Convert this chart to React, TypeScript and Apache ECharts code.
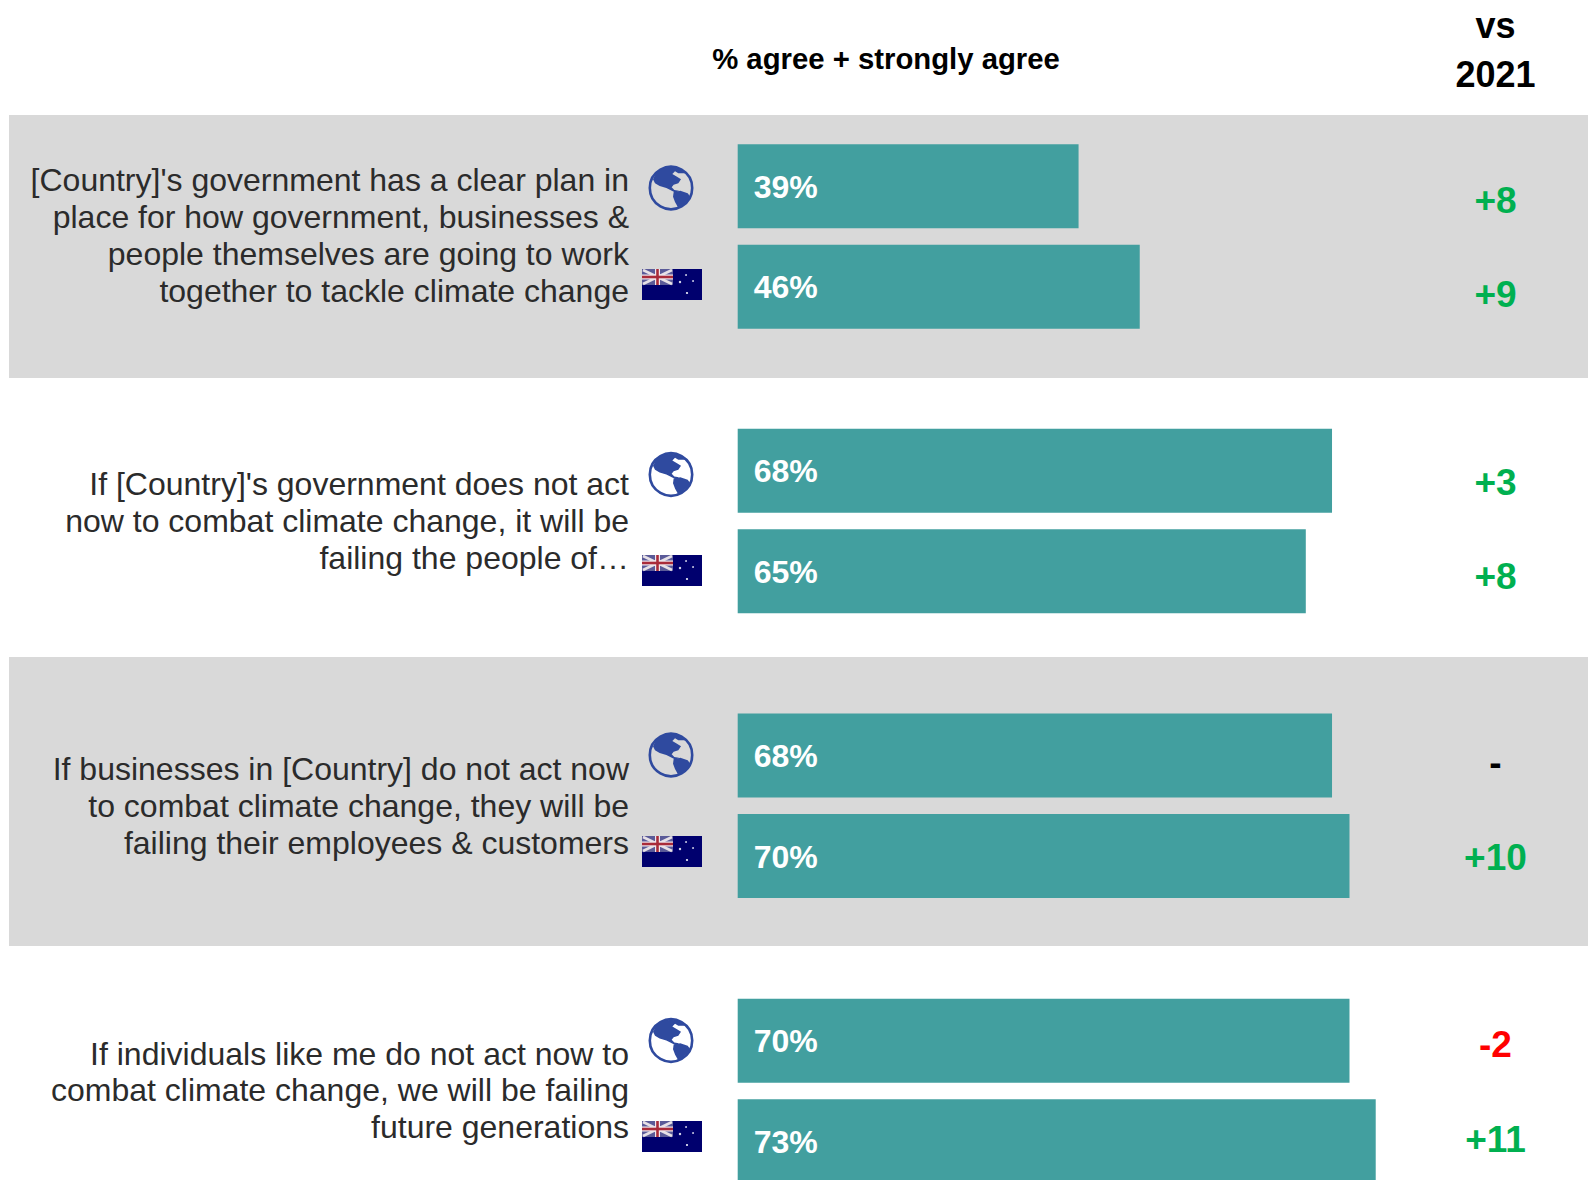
import React, { useEffect, useRef } from "react";
import * as echarts from "echarts";

const regions = ["Global", "Australia"];
const globalValues = [39, 68, 68, 70];
const australiaValues = [46, 65, 70, 73];
const globalChanges = ["+8", "+3", "-", "-2"];
const australiaChanges = ["+9", "+8", "+10", "+11"];
const questions = [
  ["[Country]'s government has a clear plan in", "place for how government, businesses &", "people themselves are going to work", "together to tackle climate change"],
  ["If [Country]'s government does not act", "now to combat climate change, it will be", "failing the people of…"],
  ["If businesses in [Country] do not act now", "to combat climate change, they will be", "failing their employees & customers"],
  ["If individuals like me do not act now to", "combat climate change, we will be failing", "future generations"],
];
const headerMain = "% agree + strongly agree";
const headerChange = ["vs", "2021"];

const FONT = '"Liberation Sans", Arial, sans-serif';
const TEAL = "#429f9f";
const BAND = "#d9d9d9";
const AXIS_MAX = 90;
const groupTops = [136, 420.6, 705.3, 990.4];
const textTops = [180, 484, 769, 1053.5];
const globeYs = [188, 474.5, 755, 1040.5];
const flagYs = [269, 555, 836, 1121];
const globalChangeYs = [200.5, 482.5, 762, 1044.5];
const ausChangeYs = [294, 576, 857, 1139.5];

const NORTH_AMERICA = [[-54,-26],[-44,-46],[-26,-58],[0,-62],[26,-58],[44,-44],[22,-44],[12,-50],[4,-42],[18,-34],[30,-26],[22,-14],[8,-10],[2,-2],[10,6],[24,8],[14,14],[-2,6],[-14,0],[-34,-6],[-48,-14]];
const SOUTH_AMERICA = [[8,12],[28,8],[50,16],[58,26],[48,40],[36,50],[22,60],[12,42],[6,26]];

function globe(cx: number, cy: number) {
  const land = (pts: number[][]) => ({
    type: "polygon",
    shape: { points: pts.map(([a, b]) => [cx + a / 3, cy + b / 3]) },
    style: { fill: "#2f4a9f" },
  });
  return [
    { type: "circle", shape: { cx, cy, r: 21.2 }, style: { fill: "none", stroke: "#2f4a9f", lineWidth: 2.6 } },
    land(NORTH_AMERICA),
    land(SOUTH_AMERICA),
  ];
}

function flag(x: number, y: number) {
  const line = (x1: number, y1: number, x2: number, y2: number, stroke: string, lineWidth: number) => ({
    type: "line",
    shape: { x1: x + x1, y1: y + y1, x2: x + x2, y2: y + y2 },
    style: { stroke, lineWidth },
  });
  const star = (sx: number, sy: number, r: number) => ({
    type: "circle",
    shape: { cx: x + sx, cy: y + sy, r },
    style: { fill: "#dfe0f0" },
  });
  return [
    { type: "rect", shape: { x, y, width: 60, height: 31 }, style: { fill: "#00006e" } },
    { type: "rect", shape: { x, y, width: 31, height: 16 }, style: { fill: "#5a5a98" } },
    line(1, 1, 30, 15, "#e6e0e6", 2.6),
    line(30, 1, 1, 15, "#e6e0e6", 2.6),
    line(0, 8, 31, 8, "#f0e8ee", 5),
    line(15.5, 0, 15.5, 16, "#f0e8ee", 5),
    line(0, 8, 31, 8, "#a92b3a", 2.6),
    line(15.5, 0, 15.5, 16, "#a92b3a", 2.6),
    star(44, 6, 0.9),
    star(38, 13, 1.2),
    star(51, 12, 0.9),
    star(45, 24, 1.1),
  ];
}

function text(t: string, x: number, y: number, font: string, fill: string, align: string) {
  return { type: "text", style: { text: t, x, y, font, fill, align, verticalAlign: "middle" } };
}

function changeColor(c: string) {
  if (c === "-") return "#000000";
  return c.startsWith("+") ? "#00b050" : "#ff0000";
}

export default function App() {
  const ref = useRef<HTMLDivElement>(null);
  useEffect(() => {
    const chart = echarts.init(ref.current!, undefined, { renderer: "svg" });
    const headFont = `bold 36px ${FONT}`;
    const changeFont = `bold 37px ${FONT}`;
    const elements: any[] = [
      { type: "rect", shape: { x: 9, y: 115, width: 1579, height: 263 }, style: { fill: BAND } },
      { type: "rect", shape: { x: 9, y: 657, width: 1579, height: 289 }, style: { fill: BAND } },
      text(headerMain, 886, 58.5, `bold 29.3px ${FONT}`, "#000000", "center"),
      text(headerChange[0], 1495.5, 25.5, headFont, "#000000", "center"),
      text(headerChange[1], 1495.5, 74, headFont, "#000000", "center"),
    ];
    questions.forEach((lines, i) => {
      lines.forEach((l, j) => {
        elements.push(text(l, 629, textTops[i] + j * 36.9, `32px ${FONT}`, "#2b2b2b", "right"));
      });
      elements.push(...globe(671, globeYs[i]));
      elements.push(...flag(642, flagYs[i]));
      elements.push(text(globalChanges[i], 1495.5, globalChangeYs[i], changeFont, changeColor(globalChanges[i]), "center"));
      elements.push(text(australiaChanges[i], 1495.5, ausChangeYs[i], changeFont, changeColor(australiaChanges[i]), "center"));
    });

    chart.setOption({
      animation: false,
      backgroundColor: "#ffffff",
      graphic: { elements },
      grid: groupTops.map((top) => ({ left: 737.7, top, width: 8.74 * AXIS_MAX, height: 201, containLabel: false })),
      xAxis: groupTops.map((_, i) => ({ type: "value", gridIndex: i, min: 0, max: AXIS_MAX, show: false })),
      yAxis: groupTops.map((_, i) => ({ type: "category", gridIndex: i, data: regions, inverse: true, show: false })),
      series: groupTops.map((_, i) => ({
        type: "bar",
        name: `q${i + 1}`,
        xAxisIndex: i,
        yAxisIndex: i,
        barWidth: 84,
        z: 5,
        data: [globalValues[i], australiaValues[i]],
        itemStyle: { color: TEAL },
        label: {
          show: true,
          position: "insideLeft",
          distance: 16,
          offset: [0, 0.5],
          formatter: "{c}%",
          color: "#ffffff",
          fontFamily: FONT,
          fontWeight: "bold",
          fontSize: 32,
        },
      })),
    });
    return () => chart.dispose();
  }, []);
  return (
    <div style={{ position: "absolute", left: 0, top: 0, width: 1596, height: 1180, overflow: "hidden" }}>
      <div ref={ref} style={{ width: 1596, height: 1240 }} />
    </div>
  );
}
